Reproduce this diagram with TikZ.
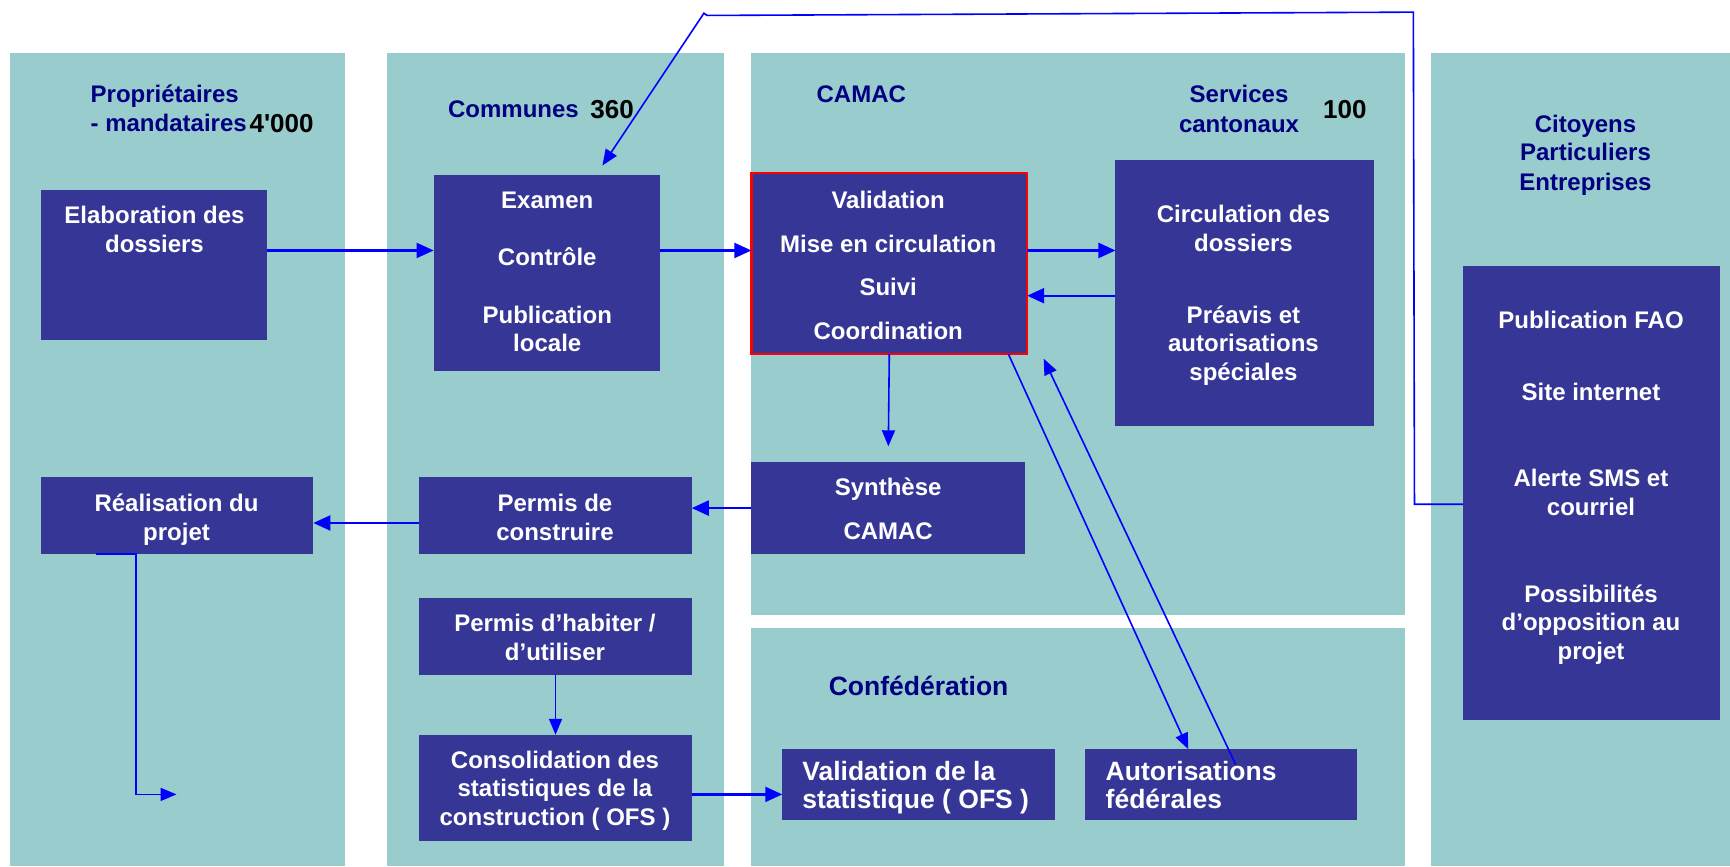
\documentclass[tikz,border=0pt]{standalone}
\usepackage{fontspec}
\setmainfont{Liberation Sans}
\newfontfamily\numfont{Liberation Sans}[Ligatures=TeXOff]
\usetikzlibrary{arrows.meta,fit}
\definecolor{panel}{HTML}{99CCCC}
\definecolor{boxc}{HTML}{363696}
\definecolor{navyt}{HTML}{000080}
\definecolor{arr}{HTML}{0000FF}
\begin{document}
\begin{tikzpicture}[x=1.1033pt,y=-1.1033pt,
 box/.style={fill=boxc, inner sep=0pt, outer sep=0pt},
 wt/.style={text=white, font=\bfseries\fontsize{24}{28}\selectfont, inner sep=0pt, text height=17.2pt, text depth=0pt},
 wtl/.style={text=white, font=\bfseries\fontsize{26.5}{31}\selectfont, inner sep=0pt, text height=19pt, text depth=0pt, anchor=west},
 ttl/.style={text=navyt, font=\bfseries\fontsize{24}{28}\selectfont, inner sep=0pt, text height=17.2pt, text depth=0pt},
 ttlb/.style={text=navyt, font=\bfseries\fontsize{26.5}{31}\selectfont, inner sep=0pt, text height=19pt, text depth=0pt, anchor=west},
 numtxt/.style={text=black, font=\numfont\bfseries\fontsize{26}{30}\selectfont, inner sep=0pt, text height=18.6pt, text depth=0pt, anchor=west},
 conn/.style={draw=arr, line width=2.2pt, -{Triangle[length=17pt,width=15pt]}},
 thinconn/.style={draw=arr, line width=1.6pt, -{Triangle[length=16pt,width=13pt]}},
]
\useasboundingbox (0,0) rectangle (1568,785);
% panels
\fill[panel] (9,48) rectangle (313,785);
\fill[panel] (351,48) rectangle (656,785);
\fill[panel] (681,48) rectangle (1273,557);
\fill[panel] (681,569) rectangle (1273,785);
\fill[panel] (1297,48) rectangle (1568,785);

% titles
\node[ttl, anchor=west] (t1a) at (82,85) {Propriétaires};
\node[ttl, anchor=west] (t1b) at (82,111) {- mandataires};
\node[numtxt] (n1) at (226,112) {4'000};
\node[ttl, anchor=west] (t2) at (406,99) {Communes};
\node[numtxt] (n2) at (535,99) {360};
\node[ttl, anchor=west] (t3) at (740,85) {CAMAC};
\node[ttl] (t4a) at (1123,85) {Services};
\node[ttl] (t4b) at (1123,112) {cantonaux};
\node[numtxt] (n4) at (1199,99) {100};
\node[ttl] (t5a) at (1437,112) {Citoyens};
\node[ttl] (t5b) at (1437,138) {Particuliers};
\node[ttl] (t5c) at (1437,165) {Entreprises};
\node[ttlb] (t6) at (751,622) {Confédération};

% boxes
\node[box, fit={(37,172)(242,308)}] (elab) {};
\node[box, fit={(393,159)(598,336)}] (exam) {};
\node[box, draw=red, line width=2.5pt, fit={(681,157)(931,321)}] (val) {};
\node[box, fit={(1011,145)(1245,386)}] (serv) {};
\node[box, fit={(1326,241)(1559,653)}] (cit) {};
\node[box, fit={(37,432)(284,502)}] (real) {};
\node[box, fit={(380,432)(627,502)}] (pc) {};
\node[box, fit={(681,419)(929,502)}] (syn) {};
\node[box, fit={(380,542)(627,612)}] (ph) {};
\node[box, fit={(380,666)(627,762)}] (cons) {};
\node[box, fit={(709,679)(956,743)}] (vstat) {};
\node[box, fit={(983,679)(1230,743)}] (aut) {};

% box texts
\node[wt] (e1) at (140,195) {Elaboration des};
\node[wt] (e2) at (140,221) {dossiers};
\node[wt] (x1) at (496,181) {Examen};
\node[wt] (x2) at (496,233) {Contrôle};
\node[wt] (x3) at (496,285) {Publication};
\node[wt] (x4) at (496,311) {locale};
\node[wt] (v1) at (805,181) {Validation};
\node[wt] (v2) at (805,221) {Mise en circulation};
\node[wt] (v3) at (805,260) {Suivi};
\node[wt] (v4) at (805,300) {Coordination};
\node[wt] (s1) at (1127,194) {Circulation des};
\node[wt] (s2) at (1127,220) {dossiers};
\node[wt] (s3) at (1127,285) {Préavis et};
\node[wt] (s4) at (1127,311) {autorisations};
\node[wt] (s5) at (1127,337) {spéciales};
\node[wt] (c1) at (1442,290) {Publication FAO};
\node[wt] (c2) at (1442,355) {Site internet};
\node[wt] (c3) at (1442,433) {Alerte SMS et};
\node[wt] (c4) at (1442,459) {courriel};
\node[wt] (c5) at (1442,538) {Possibilités};
\node[wt] (c6) at (1442,564) {d’opposition au};
\node[wt] (c7) at (1442,590) {projet};
\node[wt] (r1) at (160,456) {Réalisation du};
\node[wt] (r2) at (160,482) {projet};
\node[wt] (p1) at (503,456) {Permis de};
\node[wt] (p2) at (503,482) {construire};
\node[wt] (y1) at (805,441) {Synthèse};
\node[wt] (y2) at (805,481) {CAMAC};
\node[wt] (h1) at (503,565) {Permis d’habiter /};
\node[wt] (h2) at (503,591) {d’utiliser};
\node[wt] (o1) at (503,689) {Consolidation des};
\node[wt] (o2) at (503,714) {statistiques de la};
\node[wt] (o3) at (503,740) {construction ( OFS )};
\node[wtl] (w1) at (727,699) {Validation de la};
\node[wtl] (w2) at (727,724) {statistique ( OFS )};
\node[wtl] (a1) at (1002,699) {Autorisations};
\node[wtl] (a2) at (1002,724) {fédérales};

% helper coordinates
\coordinate (yA) at (0,227);
\coordinate (yB) at (0,268);
\coordinate (yC) at (0,474);
\coordinate (yD) at (0,720);
\coordinate (xR) at (87,0);
\coordinate (rEnd) at (160,720);
\coordinate (xD1) at (914,0);
\coordinate (xD2) at (1077,0);
\coordinate (dS) at (1120,693);
\coordinate (xD4) at (944,0);
\coordinate (k1) at (1282,457);
\coordinate (k2) at (1281,11);
\coordinate (k3) at (641,14);
\coordinate (k3b) at (638,12);
\coordinate (k4) at (546,150);

% connectors
\draw[conn] (elab.east |- yA) -- (exam.west |- yA);
\draw[conn] (exam.east |- yA) -- (val.west |- yA);
\draw[conn] (val.east |- yA) -- (serv.west |- yA);
\draw[conn] (serv.west |- yB) -- (val.east |- yB);
\draw[thinconn, shorten >=16pt] (val.south) -- (syn.north);
\draw[conn] (syn.west) -- (pc.east |- syn.west);
\draw[conn] (pc.west |- yC) -- (real.east |- yC);
\draw[thinconn] (real.south -| xR) -- ++(36,0) -- ++(0,218) -- (rEnd);
\draw[thinconn] (ph.south) -- (cons.north);
\draw[conn] (cons.east |- yD) -- (vstat.west |- yD);
\draw[thinconn] (val.south -| xD1) -- (aut.north -| xD2);
\draw[thinconn, shorten >=5pt] (dS) -- (val.south -| xD4);
\draw[thinconn] (cit.west |- k1) -- (k1) -- (k2) -- (k3) -- (k3b) -- (k4);
\end{tikzpicture}
\end{document}
